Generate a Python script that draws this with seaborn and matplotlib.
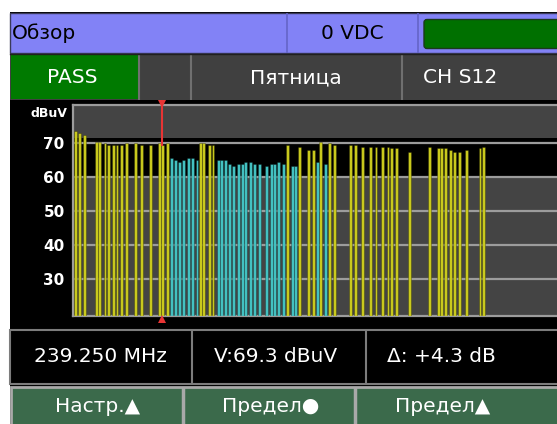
import numpy as np
import pandas as pd
import matplotlib
matplotlib.use("Agg")
import matplotlib.pyplot as plt
import seaborn as sns
from matplotlib.patches import Rectangle, FancyBboxPatch

# ---------------- data ----------------
freq_mhz = [50.9, 59.6, 69.6, 95.7, 103.7, 114.6, 122.6, 133.5, 140.7, 150.1,
            160.9, 179.9, 194.4, 213.1, 232.7, 239.25, 251.0,
            258.2, 269.0, 277.1, 284.9, 296.6, 304.5, 314.7,
            322.7, 329.9, 341.5, 349.5,
            361.0, 368.4, 376.3, 385.8, 393.7, 404.5, 414.1, 420.6, 431.5, 439.3,
            450.2, 465.4, 476.3, 483.7, 492.4, 503.3,
            511.1, 522.8, 530.0, 537.6, 556.8, 567.7, 575.7, 583.3, 594.6,
            602.5, 613.3, 647.5, 659.0, 673.6, 692.5, 704.0, 718.6, 730.1,
            738.2, 749.0, 775.8, 820.8, 839.5, 846.9, 854.7, 865.6, 873.7,
            885.2, 900.4, 930.2, 937.4]
level_dbuv = [73.4, 72.9, 72.3, 70.3, 70.3, 69.8, 69.3, 69.3, 69.3, 69.3,
              69.8, 69.8, 69.3, 69.3, 69.8, 69.3, 69.8,
              65.4, 64.8, 64.2, 64.8, 65.4, 65.4, 64.8,
              69.8, 69.8, 69.3, 69.3,
              64.8, 64.8, 64.8, 63.7, 63.2, 63.7, 63.7, 64.2, 64.2, 63.7,
              63.7, 63.2, 63.7, 63.7, 64.2, 63.7,
              69.3, 63.2, 63.2, 68.8, 67.8, 67.8, 64.2, 70.2, 63.7,
              69.8, 69.3, 69.3, 69.3, 68.8, 68.8, 68.8, 68.8, 68.8,
              68.3, 68.3, 67.2, 68.8, 68.3, 68.3, 68.3, 67.8, 67.2,
              67.2, 67.8, 68.3, 68.8]
kind = (["A"] * 17 + ["D"] * 7 + ["A"] * 4 + ["D"] * 16 +
        ["A", "D", "D", "A", "A", "A", "D", "A", "D"] + ["A"] * 22)

y_ticks = [30, 40, 50, 60, 70]
y_range = (19.4, 81.0)
f_range = (45.0, 1104.2)
limit_band = (60.0, 71.3)
marker_freq = 239.25
marker_level = 69.3

header_left = "Обзор"
header_mid = "0 VDC"
status_cells = ["PASS", "Пятница", "CH S12"]
readouts = ["239.250 MHz", "V:69.3 dBuV", "Δ: +4.3 dB"]
softkeys = ["Настр.▲", "Предел●", "Предел▲"]
unit_label = "dBuV"

df = pd.DataFrame({"freq": freq_mhz, "level": level_dbuv, "kind": kind})

# ---------------- figure ----------------
W, H = 557, 424
fig = plt.figure(figsize=(W / 100, H / 100), dpi=100)
fig.patch.set_facecolor("white")

bg = fig.add_axes([0, 0, 1, 1], zorder=0)
bg.set_xlim(0, W)
bg.set_ylim(H, 0)
bg.axis("off")


def box(x0, y0, x1, y1, fc, ec="none", lw=0):
    bg.add_patch(Rectangle((x0, y0), x1 - x0, y1 - y0, facecolor=fc,
                           edgecolor=ec, linewidth=lw))


def vline(x, y0, y1, c, lw=1.0):
    bg.plot([x, x], [y0, y1], color=c, lw=lw, solid_capstyle="butt")


FONT = "DejaVu Sans"
TXT = 14.5

# black panel
box(10, 12, W + 2, H + 2, "#000000")

# row 1 (header)
box(10, 13, W + 2, 53, "#8282f6", ec="#3a3a5a", lw=1)
vline(287, 13, 53, "#6464c8", 1.2)
vline(418, 13, 53, "#6464c8", 1.2)
bg.add_patch(FancyBboxPatch((424, 19.5), 140, 29,
                            boxstyle="round,pad=0,rounding_size=3",
                            facecolor="#007000", edgecolor="#1c3a1c", lw=1))
bg.text(12, 33.5, header_left, color="black", fontsize=TXT, va="center",
        ha="left", family=FONT)
bg.text(352, 33.5, header_mid, color="black", fontsize=TXT, va="center",
        ha="center", family=FONT)

# row 2 (status)
box(10, 54, W + 2, 100, "#404040")
box(11, 55, 139, 99, "#007a00")
for xd in (139, 191, 402):
    vline(xd, 54, 100, "#707070", 1.5)
bg.plot([10, W], [54, 54], color="#202020", lw=1)
for txt, xc in zip(status_cells, (72, 296, 460)):
    bg.text(xc, 77.5, txt, color="white", fontsize=TXT, va="center",
            ha="center", family=FONT)

# row 3 (readouts)
box(10, 329.5, W + 2, 383.5, "#000000", ec="#7c7c7c", lw=1.5)
vline(192, 329.5, 383.5, "#7c7c7c", 1.5)
vline(366, 329.5, 383.5, "#7c7c7c", 1.5)
for txt, xc in zip(readouts, (100, 276, 441)):
    bg.text(xc, 357, txt, color="white", fontsize=TXT, va="center",
            ha="center", family=FONT)

# row 4 (softkeys)
box(11, 387, W + 2, H + 2, "#3b6a4b", ec="#a9a9a9", lw=2)
vline(183, 387, H, "#a9a9a9", 2.5)
vline(355, 387, H, "#a9a9a9", 2.5)
for txt, xc in zip(softkeys, (98, 271, 443)):
    bg.text(xc, 407, txt, color="white", fontsize=TXT, va="center",
            ha="center", family=FONT)

# ---------------- chart ----------------
ax_l, ax_r, ax_t, ax_b = 73, 560, 105, 315.5
ax = fig.add_axes([ax_l / W, (H - ax_b) / H, (ax_r - ax_l) / W, (ax_b - ax_t) / H],
                  zorder=2)
ax.set_facecolor("#444444")
ax.axhspan(*limit_band, color="#000000", zorder=0.2, lw=0)

sns.barplot(data=df, x="freq", y="level", hue="kind", native_scale=True,
            dodge=False, width=1.0, palette={"A": "#e6e600", "D": "#2ed6d6"},
            edgecolor=(0, 0, 0, 0.45), linewidth=0.4, errorbar=None,
            legend=False, ax=ax, zorder=3)

ax.set_xlim(*f_range)
ax.set_ylim(*y_range)
ax.set_yticks(y_ticks)
ax.set_xticks([])
ax.set_xlabel("")
ax.set_ylabel("")
ax.grid(axis="y", color="#9c9c9c", lw=1.6, zorder=0.5)
ax.set_axisbelow(True)
ax.tick_params(axis="y", colors="white", length=0, pad=6, labelsize=11)
for t in ax.get_yticklabels():
    t.set_fontweight("bold")
    t.set_family(FONT)
for side in ("left", "top", "bottom"):
    ax.spines[side].set_color("#9c9c9c")
    ax.spines[side].set_linewidth(1.6)
ax.spines["right"].set_visible(False)

# marker
red = "#e83434"
ax.plot([marker_freq, marker_freq], [marker_level, y_range[1]], color=red,
        lw=1.5, zorder=4)
ax.plot([marker_freq], [y_range[1] + 0.3], marker="v", ms=6, color=red,
        clip_on=False, zorder=5, mew=0)
ax.plot([marker_freq], [y_range[0] - 0.9], marker="^", ms=6, color=red,
        clip_on=False, zorder=5, mew=0)

fig.text(67 / W, 1 - 113 / H, unit_label, color="white", fontsize=9,
         fontweight="bold", ha="right", va="center", family=FONT)

fig.savefig("out.png", dpi=100, facecolor=fig.get_facecolor())
